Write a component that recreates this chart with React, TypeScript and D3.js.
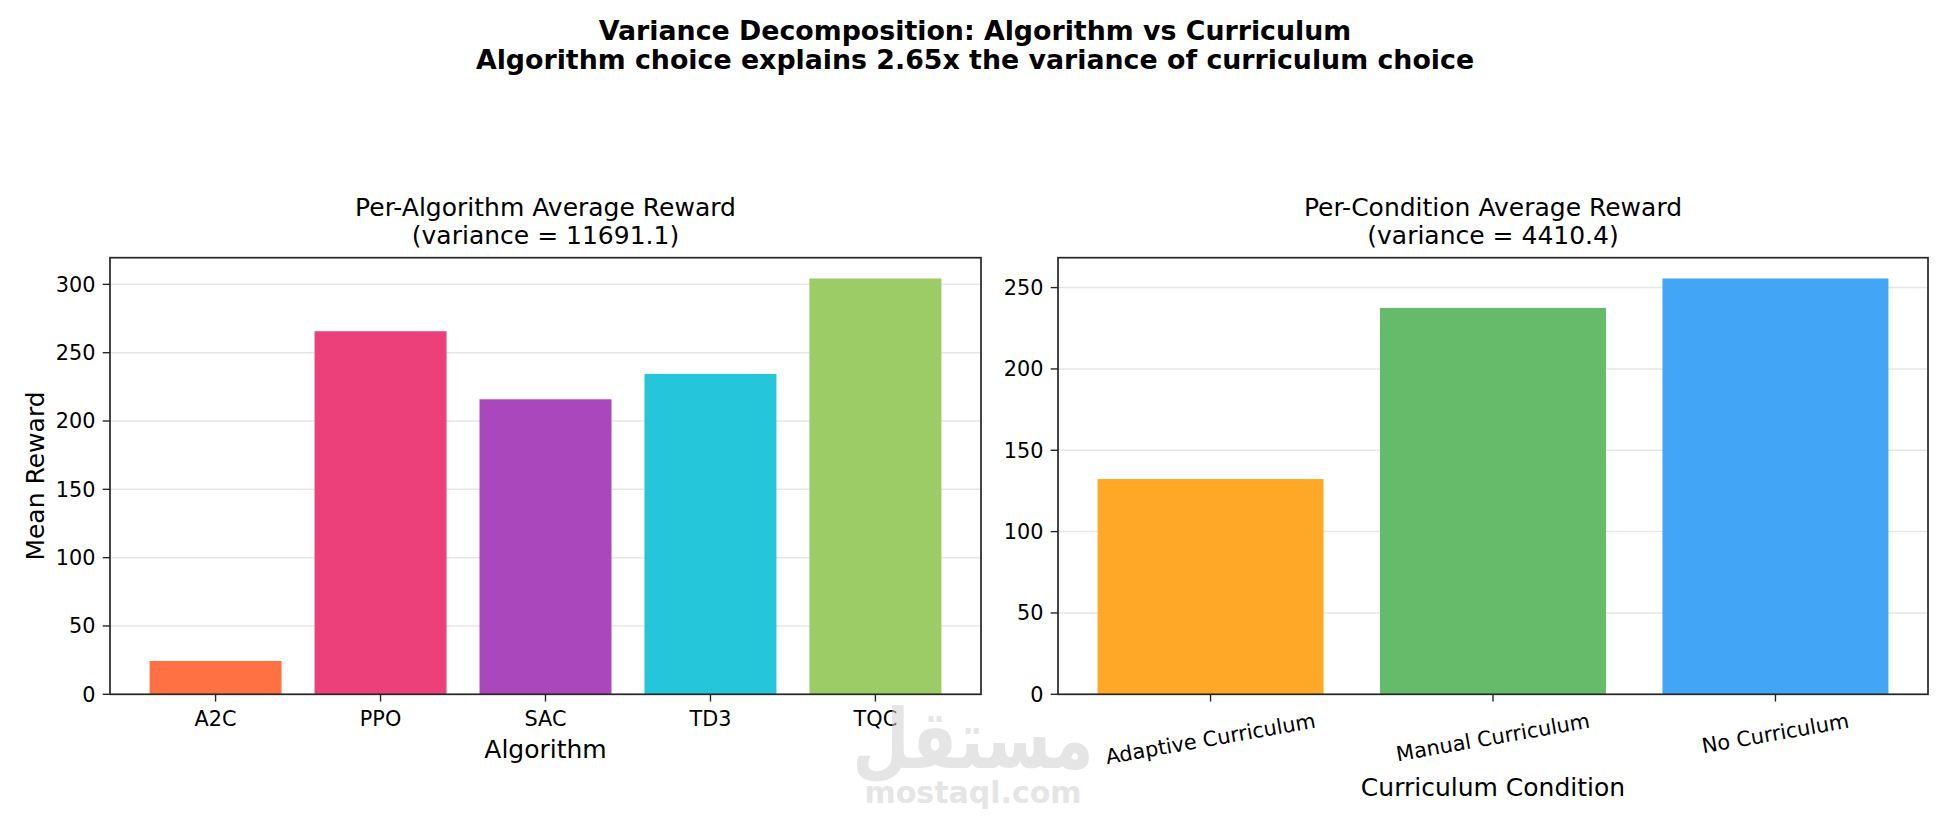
import React from 'react'
import * as d3 from 'd3'

// data
const algorithms = ['A2C', 'PPO', 'SAC', 'TD3', 'TQC']
const algorithmRewards = [24.4, 265.7, 215.9, 234.5, 304.3]
const algorithmColors = ['#FF7043', '#EC407A', '#AB47BC', '#26C6DA', '#9CCC65']
const algorithmTicks = [0, 50, 100, 150, 200, 250, 300]

const conditions = ['Adaptive Curriculum', 'Manual Curriculum', 'No Curriculum']
const conditionRewards = [132.3, 237.5, 255.6]
const conditionColors = ['#FFA726', '#66BB6A', '#42A5F5']
const conditionTicks = [0, 50, 100, 150, 200, 250]

const suptitleLines = [
  'Variance Decomposition: Algorithm vs Curriculum',
  'Algorithm choice explains 2.65x the variance of curriculum choice'
]

const W = 1950
const H = 825
const FONT = '"DejaVu Sans", sans-serif'
const TICK_FS = 20.8
const LABEL_FS = 25
const TITLE_FS = 25
const SPINE = '#262626'

let measureCtx: CanvasRenderingContext2D | null = null
const textWidth = (s: string, size: number) => {
  if (!measureCtx) measureCtx = document.createElement('canvas').getContext('2d')
  if (!measureCtx) return s.length * size * 0.6
  measureCtx.font = `${size}px "DejaVu Sans"`
  return measureCtx.measureText(s).width
}

interface PanelProps {
  left: number
  right: number
  top: number
  bottom: number
  categories: string[]
  values: number[]
  colors: string[]
  ticks: number[]
  title: string[]
  xLabel: string
  yLabel?: string
  rotate?: number
}

const Panel: React.FC<PanelProps> = ({
  left, right, top, bottom, categories, values, colors, ticks, title, xLabel, yLabel, rotate = 0
}) => {
  const n = categories.length
  const pad = 0.4 + 0.05 * (n - 1 + 0.8)
  const x = d3.scaleLinear().domain([-pad, n - 1 + pad]).range([left, right])
  const y = d3.scaleLinear().domain([0, (d3.max(values) as number) * 1.05]).range([bottom, top])
  const cx = (left + right) / 2
  const tickLen = 7.3
  const tickPad = 7.3
  const lineH = TICK_FS * 1.164
  const rad = (Math.abs(rotate) * Math.PI) / 180

  return (
    <g>
      {/* grid */}
      {ticks.map(t => (
        <line key={'g' + t} x1={left} x2={right} y1={y(t)} y2={y(t)} stroke="#e6e6e6" strokeWidth={1.5} />
      ))}
      {/* bars */}
      {values.map((v, i) => (
        <rect
          key={categories[i]}
          x={x(i - 0.4)}
          width={x(i + 0.4) - x(i - 0.4)}
          y={y(v)}
          height={y(0) - y(v)}
          fill={colors[i]}
        />
      ))}
      {/* spines */}
      <rect x={left} y={top} width={right - left} height={bottom - top} fill="none" stroke={SPINE} strokeWidth={1.7} />
      {/* y ticks */}
      {ticks.map(t => (
        <g key={'y' + t}>
          <line x1={left - tickLen} x2={left} y1={y(t)} y2={y(t)} stroke={SPINE} strokeWidth={1.4} />
          <text
            x={left - tickLen - tickPad}
            y={y(t)}
            dy="0.36em"
            textAnchor="end"
            fontSize={TICK_FS}
            fontFamily={FONT}
          >
            {t}
          </text>
        </g>
      ))}
      {/* x ticks */}
      {categories.map((c, i) => {
        const tx = x(i)
        if (!rotate) {
          return (
            <g key={'x' + c}>
              <line x1={tx} x2={tx} y1={bottom} y2={bottom + tickLen} stroke={SPINE} strokeWidth={1.4} />
              <text x={tx} y={bottom + 31.5} textAnchor="middle" fontSize={TICK_FS} fontFamily={FONT}>
                {c}
              </text>
            </g>
          )
        }
        const w = textWidth(c, TICK_FS)
        const bboxH = w * Math.sin(rad) + lineH * Math.cos(rad)
        const cy = bottom + tickLen + tickPad + bboxH / 2
        return (
          <g key={'x' + c}>
            <line x1={tx} x2={tx} y1={bottom} y2={bottom + tickLen} stroke={SPINE} strokeWidth={1.4} />
            <text
              transform={`translate(${tx},${cy}) rotate(${rotate})`}
              dy="0.32em"
              textAnchor="middle"
              fontSize={TICK_FS}
              fontFamily={FONT}
            >
              {c}
            </text>
          </g>
        )
      })}
      {/* titles */}
      {title.map((t, i) => (
        <text key={'t' + i} x={cx} y={216 + i * 28} textAnchor="middle" fontSize={TITLE_FS} fontFamily={FONT}>
          {t}
        </text>
      ))}
      <text x={cx} y={rotate ? 796 : 758} textAnchor="middle" fontSize={LABEL_FS} fontFamily={FONT}>
        {xLabel}
      </text>
      {yLabel && (
        <text
          transform={`translate(44,${(top + bottom) / 2}) rotate(-90)`}
          textAnchor="middle"
          fontSize={LABEL_FS}
          fontFamily={FONT}
        >
          {yLabel}
        </text>
      )}
    </g>
  )
}

const App: React.FC = () => {
  const top = 257.7
  const bottom = 694.3
  return (
    <svg
      width={W}
      height={H}
      viewBox={`0 0 ${W} ${H}`}
      style={{ position: 'fixed', left: 0, top: 0, background: '#fff' }}
    >
      <rect width={W} height={H} fill="#fff" />
      {suptitleLines.map((t, i) => (
        <text
          key={t}
          x={W / 2}
          y={40 + i * 29.3}
          textAnchor="middle"
          fontSize={26.8}
          fontWeight="bold"
          fontFamily={FONT}
        >
          {t}
        </text>
      ))}
      <Panel
        left={110}
        right={981}
        top={top}
        bottom={bottom}
        categories={algorithms}
        values={algorithmRewards}
        colors={algorithmColors}
        ticks={algorithmTicks}
        title={['Per-Algorithm Average Reward', '(variance = 11691.1)']}
        xLabel="Algorithm"
        yLabel="Mean Reward"
      />
      <Panel
        left={1058}
        right={1928}
        top={top}
        bottom={bottom}
        categories={conditions}
        values={conditionRewards}
        colors={conditionColors}
        ticks={conditionTicks}
        title={['Per-Condition Average Reward', '(variance = 4410.4)']}
        xLabel="Curriculum Condition"
        rotate={-10}
      />
      {/* watermark */}
      <g opacity={0.55} fill="#d0d0d0" fontFamily={FONT} fontWeight="bold" textAnchor="middle">
        <text transform="translate(973,768) scale(1,1.25)" fontSize={66}>مستقل</text>
        <text x={973} y={803} fontSize={30}>mostaql.com</text>
      </g>
    </svg>
  )
}

export default App
